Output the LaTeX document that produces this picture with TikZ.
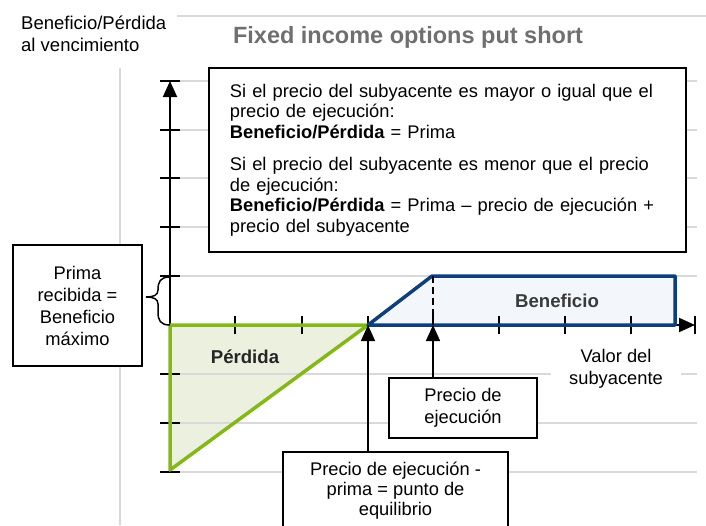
\documentclass[tikz,border=0pt]{standalone}
\usepackage{fontspec}
\setmainfont{Liberation Sans}
\usetikzlibrary{arrows.meta}
\definecolor{gridgray}{HTML}{D9D9D9}
\definecolor{titlegray}{HTML}{6F6F6F}
\definecolor{pgreen}{HTML}{84B819}
\definecolor{pgreenfill}{HTML}{EBF1DE}
\definecolor{pblue}{HTML}{0E3F7A}
\definecolor{pbluefill}{HTML}{F3F6FA}
\definecolor{labelgray}{HTML}{3A3A3A}
\begin{document}
\begin{tikzpicture}[x=1pt,y=-1pt,
  font=\fontsize{18.3}{21}\selectfont,
  grid/.style={draw=gridgray, line width=1.6pt},
  axis/.style={draw=black, line width=2pt},
  tickmark/.style={draw=black, line width=2pt},
  box/.style={draw=black, line width=1.8pt, fill=white, align=center, inner sep=0pt},
  tipped/.style={-{Triangle[length=16pt,width=14pt]}},
  conn/.style={draw=black, line width=1.6pt, tipped},
  area/.style={line width=3.5pt, line join=round}
]
\useasboundingbox (0,0) rectangle (706,525);
% fills
\fill[pgreenfill] (170,325) -- (368,325) -- (170,470) -- cycle;
\fill[pbluefill] (368,325) -- (432,276) -- (675,276) -- (675,325) -- cycle;
% grid
\draw[grid] (177,16) -- (706,16);
\draw[grid] (120,68) -- (120,525);
\foreach \y in {81,130,178,227,276,374,423,472} \draw[grid] (180,\y) -- (697,\y);
% axes and ticks
\foreach \y in {81,130,178,227,276,374,423,472} \draw[tickmark] (160,\y) -- (180,\y);
\draw[axis, tipped] (170,472) -- (170,81);
\draw[axis, tipped] (170,325) -- (695,325);
\draw[tickmark] (695,316) -- (695,334);
\foreach \x in {235,302,368,433,499,565,631} \draw[tickmark] (\x,316) -- (\x,334);
% shapes
\draw[area, draw=pgreen] (170,325) -- (368,325) -- (170,470) -- cycle;
\draw[area, draw=pblue] (368,325) -- (432,276) -- (675,276) -- (675,325) -- cycle;
\draw[black, line width=2pt, dash pattern=on 7pt off 4pt] (433,276) -- (433,325);
% brace
\draw[black, line width=1.5pt] (170,277) .. controls (160,277) and (158,282) .. (158,290)
  .. controls (158,295) and (154,297) .. (146,297)
  .. controls (154,297) and (158,299) .. (158,304) -- (158,312)
  .. controls (158,320) and (160,325) .. (170,325);
% texts
\node[font=\bfseries\fontsize{23.5}{28}\selectfont, text=titlegray, inner sep=0pt] (title) at (408,37) {Fixed income options put short};
\node[anchor=west, align=left, inner sep=0pt, font=\fontsize{18.5}{22}\selectfont] (ylabel) at (21,34) {Beneficio/Pérdida\\al vencimiento};
\node[font=\bfseries\fontsize{18.6}{21}\selectfont, text=labelgray, inner sep=0pt] (gain) at (557,301) {Beneficio};
\node[font=\bfseries\fontsize{18.6}{21}\selectfont, text=black!85, inner sep=0pt] (loss) at (245,357) {Pérdida};
\node[fill=white, align=center, inner sep=2pt, minimum width=130pt, font=\fontsize{18.3}{22}\selectfont] (xlabel) at (616,369) {Valor del\\subyacente};
% boxes
\node[box, anchor=north west, minimum width=477pt, minimum height=184pt, text width=435pt, align=left, font=\fontsize{18.3}{20.5}\selectfont] (formula) at (208,67) {Si el precio del subyacente es mayor o igual que el\\
precio de ejecución:\\
\textbf{Beneficio/Pérdida} = Prima\\[12pt]
Si el precio del subyacente es menor que el precio\\
de ejecución:\\
\textbf{Beneficio/Pérdida} = Prima – precio de ejecución +\\
precio del subyacente};
\node[box, minimum width=129pt, minimum height=121pt, font=\fontsize{18.3}{22}\selectfont] (prima) at (77.5,305.5) {Prima\\recibida =\\Beneficio\\máximo};
\node[box, minimum width=148pt, minimum height=60pt, font=\fontsize{18.3}{22}\selectfont] (strike) at (463,408) {Precio de\\ejecución};
\node[box, minimum width=225pt, minimum height=78pt, font=\fontsize{18.3}{20}\selectfont] (be) at (395.5,491) {Precio de ejecución -\\prima = punto de\\equilibrio};
% connectors
\coordinate (K) at (433,325);
\coordinate (B) at (368,325);
\draw[conn] (strike.north -| K) -- (K);
\draw[conn] (be.north -| B) -- (B);
\end{tikzpicture}
\end{document}
